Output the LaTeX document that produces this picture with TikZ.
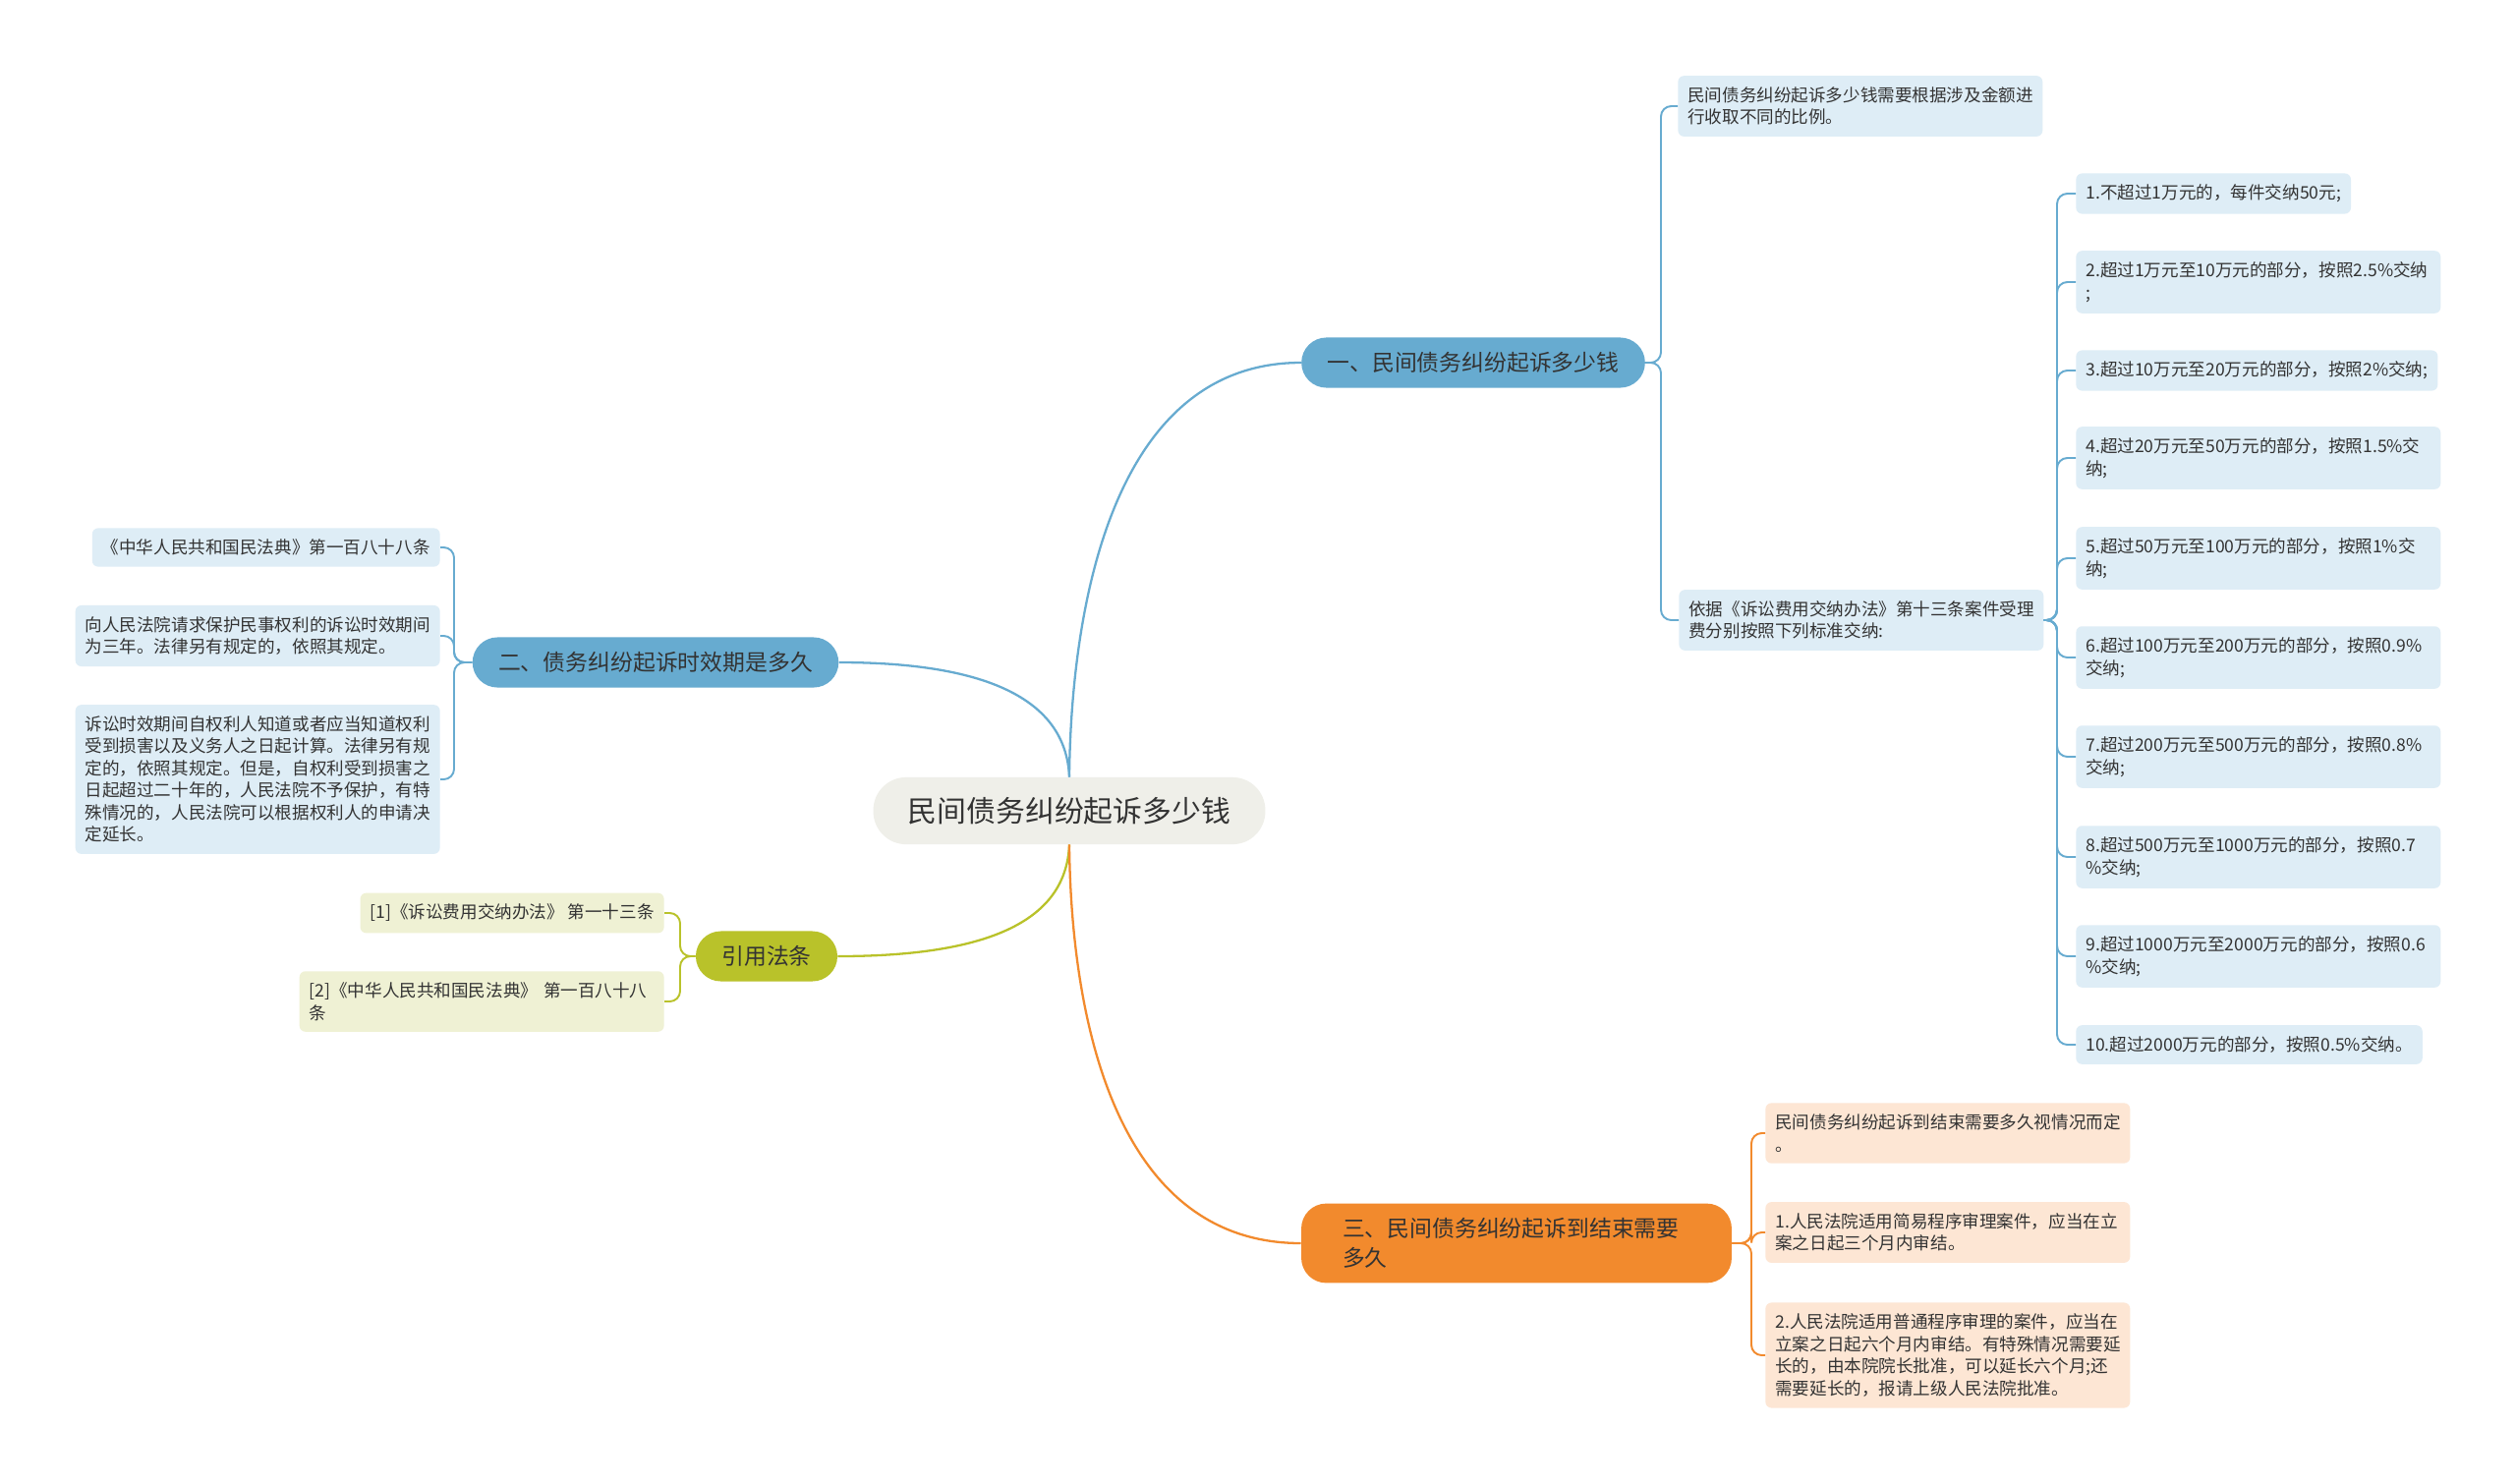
\documentclass[tikz,border=0pt]{standalone}
\usepackage{fontspec}
\setmainfont{Noto Sans CJK SC}
\usepackage{xcolor}
\usepackage{tikz}
\usetikzlibrary{positioning}
\definecolor{rootfill}{HTML}{EFEFE9}
\definecolor{bluefill}{HTML}{67ABD0}
\definecolor{blueleaf}{HTML}{DEEDF6}
\definecolor{olivefill}{HTML}{B9C22A}
\definecolor{oliveleaf}{HTML}{EFF1D4}
\definecolor{orangefill}{HTML}{F28A2D}
\definecolor{orangeleaf}{HTML}{FDE6D4}
\definecolor{txt}{HTML}{333333}
\tikzset{
    rootnode/.style = {rectangle, rounded corners=19pt, fill=rootfill, text=txt, font=\fontsize{17}{21}\selectfont, inner xsep=20pt, inner ysep=11.5pt},
    mainnode/.style = {rectangle, rounded corners=14.5pt, text=txt, font=\fontsize{13}{17}\selectfont, inner xsep=15pt, inner ysep=8.5pt, align=left},
    leafnode/.style = {rectangle, rounded corners=3.5pt, text=txt, font=\fontsize{10}{12.8}\selectfont, inner xsep=5.7pt, inner ysep=6.5pt, align=left},
    wideleaf/.style = {leafnode, text width=7.02cm},
}

\begin{document}
\begin{tikzpicture}[x=0.02cm, y=-0.02cm]
\tikzset{
    edgeb/.style = {draw=bluefill, line width=1.3pt},
    edgey/.style = {draw=olivefill, line width=1.3pt},
    edgeo/.style = {draw=orangefill, line width=1.3pt},
    brackb/.style = {edgeb, line width=1.1pt, rounded corners=6pt},
    bracky/.style = {edgey, line width=1.1pt, rounded corners=6pt},
    bracko/.style = {edgeo, line width=1.1pt, rounded corners=6pt},
}
\useasboundingbox[fill=white] (0,0) rectangle (2560,1509);
% centre and main branches
\node[rootnode] at (1088,825) (root) {民间债务纠纷起诉多少钱};
\node[mainnode, fill=bluefill] at (1499,369) (b1) {一、民间债务纠纷起诉多少钱};
\node[mainnode, fill=bluefill] at (667,674) (b2) {二、债务纠纷起诉时效期是多久};
\node[mainnode, fill=olivefill] at (780,973) (b3) {引用法条};
\node[mainnode, fill=orangefill, text width=7.08cm, inner xsep=23.9pt] at (1543,1265) (b4) {三、民间债务纠纷起诉到结束需要\\多久};
%
\draw[edgeb] (root.north) .. controls (1089,685) and (1107,369) .. (b1.west);
\draw[edgeb] (root.north) .. controls (1085,720) and (1020,674) .. (b2.east);
\draw[edgey] (root.south) .. controls (1085,930) and (1020,973) .. (b3.east);
\draw[edgeo] (root.south) .. controls (1089,965) and (1107,1265) .. (b4.west);
% branch one
\node[wideleaf, fill=blueleaf, anchor=west] at (1707,108) (fee) {民间债务纠纷起诉多少钱需要根据涉及金额进\\行收取不同的比例。};
\node[wideleaf, fill=blueleaf, anchor=west] at (1708,631) (rule) {依据《诉讼费用交纳办法》第十三条案件受理\\费分别按照下列标准交纳:};
\draw[brackb] (b1.east) -- (1690,369) |- (fee.west);
\draw[brackb] (b1.east) -- (1690,369) |- (rule.west);
%
\node[leafnode, fill=blueleaf, anchor=west] at (2112,197) (r1) {1.不超过1万元的，每件交纳50元;};
\node[wideleaf, fill=blueleaf, anchor=west] at (2112,287) (r2) {2.超过1万元至10万元的部分，按照2.5\%交纳\\;};
\node[leafnode, fill=blueleaf, anchor=west] at (2112,377) (r3) {3.超过10万元至20万元的部分，按照2\%交纳;};
\node[wideleaf, fill=blueleaf, anchor=west] at (2112,466) (r4) {4.超过20万元至50万元的部分，按照1.5\%交\\纳;};
\node[wideleaf, fill=blueleaf, anchor=west] at (2112,568) (r5) {5.超过50万元至100万元的部分，按照1\%交\\纳;};
\node[wideleaf, fill=blueleaf, anchor=west] at (2112,669) (r6) {6.超过100万元至200万元的部分，按照0.9\%\\交纳;};
\node[wideleaf, fill=blueleaf, anchor=west] at (2112,770) (r7) {7.超过200万元至500万元的部分，按照0.8\%\\交纳;};
\node[wideleaf, fill=blueleaf, anchor=west] at (2112,872) (r8) {8.超过500万元至1000万元的部分，按照0.7\\\%交纳;};
\node[wideleaf, fill=blueleaf, anchor=west] at (2112,973) (r9) {9.超过1000万元至2000万元的部分，按照0.6\\\%交纳;};
\node[leafnode, fill=blueleaf, anchor=west] at (2112,1063) (r10) {10.超过2000万元的部分，按照0.5\%交纳。};
\foreach \r in {r1,r2,r3,r4,r5,r6,r7,r8,r9,r10}
    \draw[brackb] (rule.east) -- (2093,631) |- (\r.west);
% branch two
\node[leafnode, fill=blueleaf, anchor=east] at (448,557) (code) {《中华人民共和国民法典》第一百八十八条};
\node[wideleaf, fill=blueleaf, anchor=east] at (448,647) (term) {向人民法院请求保护民事权利的诉讼时效期间\\为三年。法律另有规定的，依照其规定。};
\node[wideleaf, fill=blueleaf, anchor=east] at (448,793) (start) {诉讼时效期间自权利人知道或者应当知道权利\\受到损害以及义务人之日起计算。法律另有规\\定的，依照其规定。但是，自权利受到损害之\\日起超过二十年的，人民法院不予保护，有特\\殊情况的，人民法院可以根据权利人的申请决\\定延长。};
\foreach \r in {code,term,start}
    \draw[brackb] (b2.west) -- (462,674) |- (\r.east);
% branch three
\node[leafnode, fill=oliveleaf, anchor=east] at (676,929) (cite1) {[1]《诉讼费用交纳办法》 第一十三条};
\node[wideleaf, fill=oliveleaf, anchor=east] at (676,1019) (cite2) {[2]《中华人民共和国民法典》 第一百八十八\\条};
\foreach \r in {cite1,cite2}
    \draw[bracky] (b3.west) -- (692,973) |- (\r.east);
% branch four
\node[wideleaf, fill=orangeleaf, anchor=west] at (1796,1153) (time) {民间债务纠纷起诉到结束需要多久视情况而定\\。};
\node[wideleaf, fill=orangeleaf, anchor=west] at (1796,1254) (easy) {1.人民法院适用简易程序审理案件，应当在立\\案之日起三个月内审结。};
\node[wideleaf, fill=orangeleaf, anchor=west] at (1796,1379) (normal) {2.人民法院适用普通程序审理的案件，应当在\\立案之日起六个月内审结。有特殊情况需要延\\长的，由本院院长批准，可以延长六个月;还\\需要延长的，报请上级人民法院批准。};
\foreach \r in {time,easy,normal}
    \draw[bracko] (b4.east) -- (1782,1265) |- (\r.west);
\end{tikzpicture}
\end{document}
